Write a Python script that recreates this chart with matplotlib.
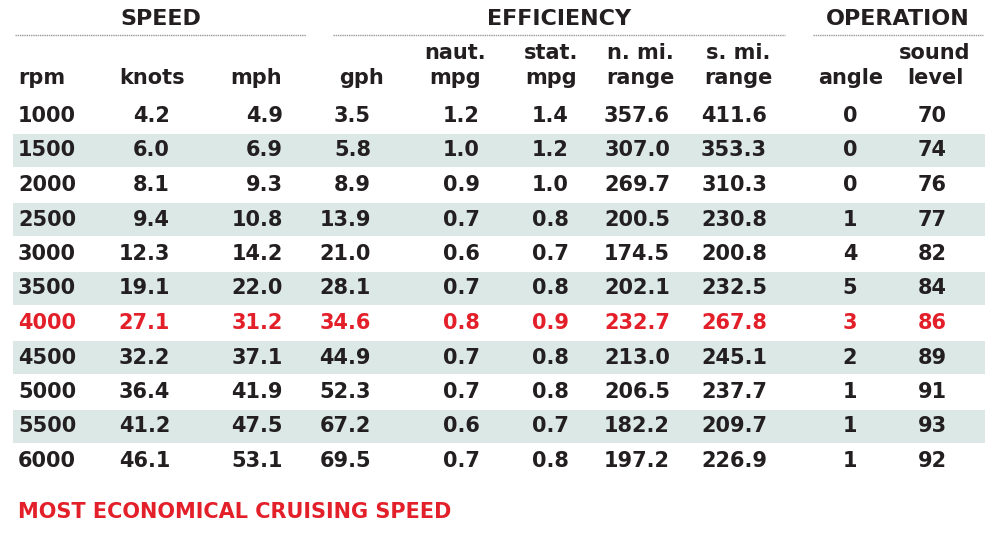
import matplotlib.pyplot as plt

rpm = [1000, 1500, 2000, 2500, 3000, 3500, 4000, 4500, 5000, 5500, 6000]
knots = [4.2, 6.0, 8.1, 9.4, 12.3, 19.1, 27.1, 32.2, 36.4, 41.2, 46.1]
mph = [4.9, 6.9, 9.3, 10.8, 14.2, 22.0, 31.2, 37.1, 41.9, 47.5, 53.1]
gph = [3.5, 5.8, 8.9, 13.9, 21.0, 28.1, 34.6, 44.9, 52.3, 67.2, 69.5]
naut_mpg = [1.2, 1.0, 0.9, 0.7, 0.6, 0.7, 0.8, 0.7, 0.7, 0.6, 0.7]
stat_mpg = [1.4, 1.2, 1.0, 0.8, 0.7, 0.8, 0.9, 0.8, 0.8, 0.7, 0.8]
nmi_range = [357.6, 307.0, 269.7, 200.5, 174.5, 202.1, 232.7, 213.0, 206.5, 182.2, 197.2]
smi_range = [411.6, 353.3, 310.3, 230.8, 200.8, 232.5, 267.8, 245.1, 237.7, 209.7, 226.9]
angle = [0, 0, 0, 1, 4, 5, 3, 2, 1, 1, 1]
sound = [70, 74, 76, 77, 82, 84, 86, 89, 91, 93, 92]
best_rpm = 4000

dark = "#231f20"
red = "#e3202a"
stripe = "#dbe8e5"
font = "DejaVu Sans"
fs = 15

fig = plt.figure(figsize=(10, 5.35), dpi=100)
ax = fig.add_axes([0, 0, 1, 1])
ax.set_xlim(0, 1000)
ax.set_ylim(535, 0)
ax.axis("off")

# group headers
for label, x0, x1 in [("SPEED", 15, 306), ("EFFICIENCY", 333, 785), ("OPERATION", 813, 983)]:
    ax.text((x0 + x1) / 2, 19, label, ha="center", va="center", fontsize=16,
            fontweight="bold", color=dark, family=font)
    ax.plot([x0, x1], [35, 35], color="#999999", lw=1, ls=(0, (1, 0.6)))

# column headers: (top, bottom, x, ha)
cols = [("", "rpm", 18, "left"), ("", "knots", 152, "center"), ("", "mph", 256, "center"),
        ("", "gph", 361, "center"), ("naut.", "mpg", 455, "center"), ("stat.", "mpg", 551, "center"),
        ("n. mi.", "range", 640, "center"), ("s. mi.", "range", 738, "center"),
        ("", "angle", 851, "center"), ("sound", "level", 935, "center")]
for top, bottom, x, ha in cols:
    if top:
        ax.text(x, 53, top, ha=ha, va="center", fontsize=fs, fontweight="bold", color=dark, family=font)
    ax.text(x, 78, bottom, ha=ha, va="center", fontsize=fs, fontweight="bold", color=dark, family=font)

series = [(rpm, "{:d}", 18, "left"), (knots, "{:.1f}", 170, "right"), (mph, "{:.1f}", 283, "right"),
          (gph, "{:.1f}", 371, "right"), (naut_mpg, "{:.1f}", 480, "right"),
          (stat_mpg, "{:.1f}", 569, "right"), (nmi_range, "{:.1f}", 670, "right"),
          (smi_range, "{:.1f}", 767, "right"), (angle, "{:d}", 850, "center"),
          (sound, "{:d}", 932, "center")]

y0, dy = 116, 34.5
for i, r in enumerate(rpm):
    y = y0 + i * dy
    if i % 2 == 1:
        ax.add_patch(plt.Rectangle((13, y - dy / 2 + 1), 972, dy - 2, color=stripe, lw=0, zorder=0))
    c = red if r == best_rpm else dark
    for vals, fmt, x, ha in series:
        ax.text(x, y, fmt.format(vals[i]), ha=ha, va="center", fontsize=fs,
                fontweight="bold", color=c, family=font)

ax.text(18, 512, "MOST ECONOMICAL CRUISING SPEED", ha="left", va="center", fontsize=fs,
        fontweight="bold", color=red, family=font)

fig.savefig("out.png", dpi=100)
